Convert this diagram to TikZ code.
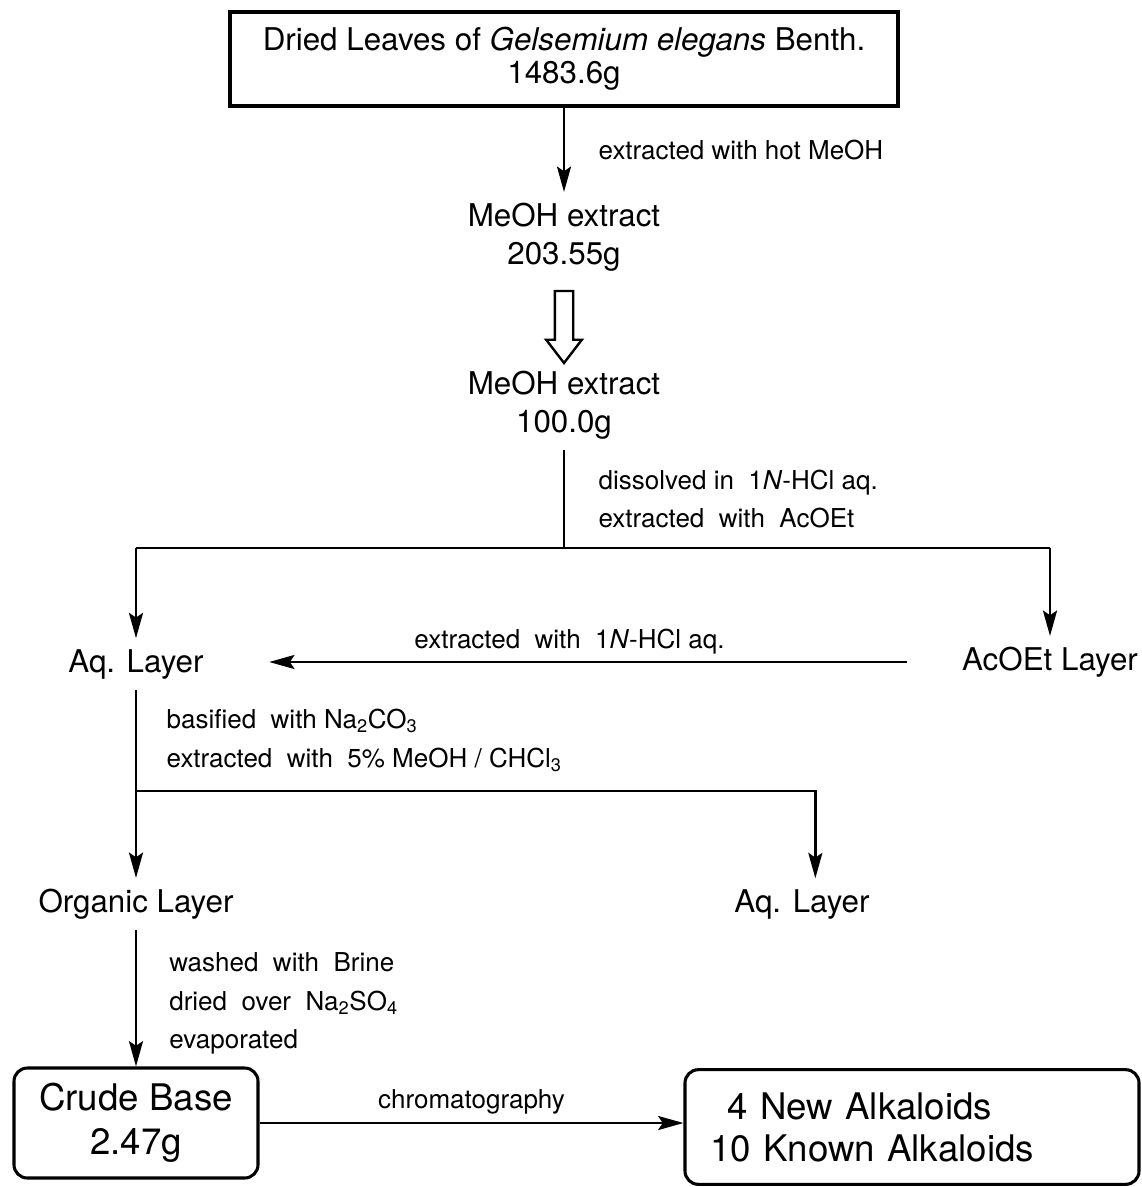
\documentclass[tikz,border=0pt]{standalone}
\usepackage{fontspec}
\setmainfont{TeX Gyre Heros}
\usetikzlibrary{arrows.meta,shapes.arrows}

\tikzset{
	big/.style={font=\fontsize{23.5}{28.5}\selectfont, align=center, inner xsep=0pt, inner ysep=8pt},
	lbl/.style={font=\fontsize{19.5}{29}\selectfont, align=left, inner sep=0pt},
	box/.style={draw, line width=2.3pt, font=\fontsize{23.5}{25}\selectfont, align=center, minimum width=501pt, minimum height=70.5pt},
	rbox/.style={draw, rounded corners=10pt, line width=2.3pt},
	wire/.style={line width=2pt},
	arr/.style={line width=2pt, -{Stealth[length=19pt,width=10.5pt,inset=3.5pt]}},
	hollow/.style={single arrow, draw, line width=1.8pt, shape border rotate=270, minimum height=54pt, inner sep=6pt, single arrow head extend=6.5pt, single arrow tip angle=75}
}

\begin{document}
\begin{tikzpicture}[x=0.75pt,y=0.75pt,yscale=-1,xscale=1]
	\useasboundingbox (0,0) rectangle (1141,1187);
	\node[box] (leaves) at (564,59) {Dried Leaves of \textit{Gelsemium elegans} Benth.\\1483.6g};
	\node[big] (ext1) at (564,237) {MeOH extract\\203.55g};
	\node[big] (ext2) at (564,405) {MeOH extract\\100.0g};
	\node[big] (aq1) at (136,664) {Aq. Layer};
	\node[big] (acoet) at (1050,662) {AcOEt Layer};
	\node[big] (org) at (136,904) {Organic Layer};
	\node[big] (aq2) at (802,904) {Aq. Layer};
	\node[rbox, font=\fontsize{27.5}{33}\selectfont, align=center, minimum width=183pt, minimum height=82.5pt] (crude) at (136,1123) {Crude Base\\2.47g};
	\node[rbox, font=\fontsize{27.5}{31.5}\selectfont, align=left, text width=302.5pt, inner xsep=19pt, minimum height=86pt] (alk) at (912,1127) {\hspace*{13pt}4 New Alkaloids\\10 Known Alkaloids};
	\coordinate (split1) at (564,548);
	\coordinate (split2) at (136,791);
	\draw[arr] (leaves.south) -- node[lbl, right=25pt] {extracted with hot MeOH} (ext1.north);
	\path (ext1.south) -- node[hollow] {} (ext2.north);
	\draw[wire] (ext2.south) -- node[lbl, right=25pt] {dissolved in \ 1\textit{N}-HCl aq.\\extracted \ with \ AcOEt} (split1);
	\draw[wire] (aq1.north |- split1) -- (acoet.north |- split1);
	\draw[arr] (aq1.north |- split1) -- (aq1.north);
	\draw[arr] (acoet.north |- split1) -- (acoet.north);
	\draw[arr, shorten <=41pt, shorten >=49pt] (acoet.west) -- node[lbl, above=5pt, xshift=-10pt] {extracted \ with \ 1\textit{N}-HCl aq.} (aq1.east |- acoet.west);
	\draw[wire] (aq1.south) -- node[lbl, right=22pt] {basified \ with Na\textsubscript{2}CO\textsubscript{3}\\extracted \ with \ 5\% MeOH / CHCl\textsubscript{3}} (split2);
	\draw[arr] (split2) -- (org.north);
	\draw[arr] (split2) -| ([xshift=10pt]aq2.north);
	\draw[arr] (org.south) -- node[lbl, right=24pt, yshift=-4pt] {washed \ with \ Brine\\dried \ over \ Na\textsubscript{2}SO\textsubscript{4}\\evaporated} (crude.north);
	\draw[arr] (crude.east) -- node[lbl, above=6pt] {chromatography} (crude.east -| alk.west);
\end{tikzpicture}
\end{document}
